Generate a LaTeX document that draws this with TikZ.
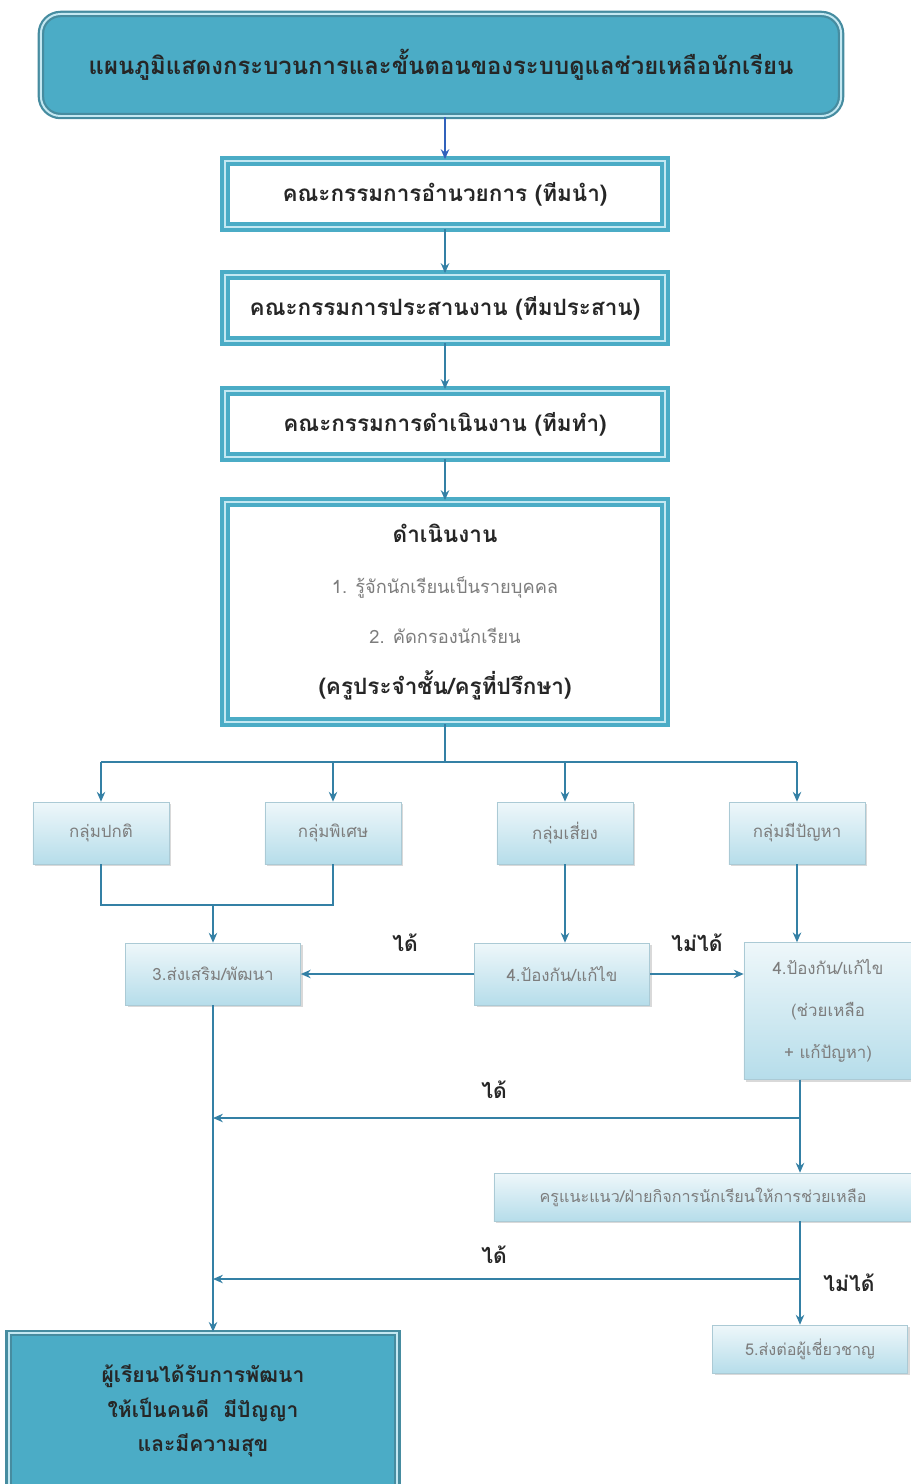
\documentclass[tikz,border=0pt]{standalone}
\usepackage{fontspec}
\setmainfont[Script=Thai]{Loma}
\usepackage{tikz}
\usetikzlibrary{arrows.meta, positioning, shadows}
\definecolor{tealc}{RGB}{75,172,198}
\definecolor{teald}{RGB}{70,140,160}
\definecolor{tealL}{RGB}{196,232,242}
\definecolor{linec}{RGB}{52,128,165}
\definecolor{boxtop}{RGB}{238,247,250}
\definecolor{boxbot}{RGB}{182,221,234}
\definecolor{graytxt}{RGB}{125,125,125}
\tikzset{
  headbox/.style={rectangle, fill=tealc, draw=teald, double=tealL, double distance=1.4pt, line width=1.6pt, align=center, text=black!85},
  teambox/.style={rectangle, fill=white, draw=tealc, double=tealL, double distance=1.2pt, line width=2.7pt, minimum width=11cm, minimum height=1.65cm, font=\bfseries\fontsize{16}{20}\selectfont, text=black!85},
  groupbox/.style={rectangle, draw=boxbot!80!gray, top color=boxtop, bottom color=boxbot, drop shadow={opacity=0.3, shadow xshift=1.5pt, shadow yshift=-1.5pt}, text=graytxt, font=\fontsize{12}{30}\selectfont, minimum width=3.4cm, minimum height=1.55cm, align=center},
  conn/.style={linec, line width=2pt},
  yesno/.style={font=\bfseries\fontsize{15}{18}\selectfont, text=black!85}
}
\begin{document}
\begin{tikzpicture}[x=0.025cm, y=-0.025cm, >={Stealth[length=7pt,width=6pt]}]
\useasboundingbox (0,0) rectangle (910,1484);

\node[headbox, rounded corners=14pt, minimum width=20cm, minimum height=2.55cm] (title) at (441,65) {\bfseries\fontsize{17}{22}\selectfont แผนภูมิแสดงกระบวนการและขั้นตอนของระบบดูแลช่วยเหลือนักเรียน};
\node[teambox] (lead) at (445,194) {คณะกรรมการอำนวยการ (ทีมนำ)};
\node[teambox] (coord) at (445,308) {คณะกรรมการประสานงาน (ทีมประสาน)};
\node[teambox] (oper) at (445,424) {คณะกรรมการดำเนินงาน (ทีมทำ)};
\node[teambox, minimum height=5.5cm, align=center, font=\fontsize{13}{36}\selectfont] (work) at (445,612) {{\bfseries\fontsize{16}{20}\selectfont ดำเนินงาน}\\ {\color{graytxt}1. รู้จักนักเรียนเป็นรายบุคคล}\\ {\color{graytxt}2. คัดกรองนักเรียน}\\ {\bfseries\fontsize{16}{20}\selectfont (ครูประจำชั้น/ครูที่ปรึกษา)}};

\node[groupbox] (normal) at (101,833) {กลุ่มปกติ};
\node[groupbox] (special) at (333,833) {กลุ่มพิเศษ};
\node[groupbox] (risk) at (565,833) {กลุ่มเสี่ยง};
\node[groupbox] (problem) at (797,833) {กลุ่มมีปัญหา};

\node[groupbox, minimum width=4.375cm] (promo) at (213,974) {3.ส่งเสริม/พัฒนา};
\node[groupbox, minimum width=4.375cm] (prev) at (562,974) {4.ป้องกัน/แก้ไข};
\node[groupbox, minimum width=4.2cm, minimum height=3.42cm] (probfix) at (828,1011) {4.ป้องกัน/แก้ไข\\(ช่วยเหลือ\\+ แก้ปัญหา)};
\node[groupbox, minimum width=10.45cm, minimum height=1.2cm, font=\fontsize{11.5}{14}\selectfont] (guide) at (703,1197) {ครูแนะแนว/ฝ่ายกิจการนักเรียนให้การช่วยเหลือ};
\node[groupbox, minimum width=4.875cm, minimum height=1.2cm, font=\fontsize{11.5}{14}\selectfont] (refer) at (810,1349) {5.ส่งต่อผู้เชี่ยวชาญ};
\node[headbox, minimum width=9.72cm, minimum height=3.9cm, font=\bfseries\fontsize{15}{24.5}\selectfont] (result) at (203,1411) {ผู้เรียนได้รับการพัฒนา\\ให้เป็นคนดี~~มีปัญญา\\และมีความสุข};

\node[yesno] (ok1) at (405,943) {ได้};
\node[yesno] (no1) at (697,943) {ไม่ได้};
\node[yesno] (ok2) at (494,1090) {ได้};
\node[yesno] (ok3) at (494,1255) {ได้};
\node[yesno] (no2) at (849,1283) {ไม่ได้};

\draw[conn, ->, teald!70!blue] (lead.north |- title.south) -- (lead.north);
\draw[conn, ->] (lead) -- (coord);
\draw[conn, ->] (coord) -- (oper);
\draw[conn, ->] (oper) -- (work);

\coordinate (split) at (445,762);
\draw[conn] (work.south) -- (split);
\draw[conn] (normal.north |- split) -- (problem.north |- split);
\foreach \g in {normal,special,risk,problem}
  \draw[conn, ->] (\g.north |- split) -- (\g.north);

\coordinate (join) at (213,905);
\draw[conn] (normal.south) |- (join) -| (special.south);
\draw[conn, ->] (join) -- (promo.north);
\draw[conn, ->] (risk.south) -- (risk.south |- prev.north);
\draw[conn, ->] (problem.south) -- (problem.south |- probfix.north);
\draw[conn, ->] (prev.west) -- (promo.east);
\draw[conn, ->] (prev.east) -- (prev.east -| probfix.west);

\coordinate (back1) at (800,1118);
\coordinate (back2) at (800,1279);
\draw[conn, ->] (probfix.south -| back1) -- (guide.north -| back1);
\draw[conn, ->] (back1) -- (back1 -| promo.south);
\draw[conn, ->] (guide.south -| back2) -- (refer.north -| back2);
\draw[conn, ->] (back2) -- (back2 -| promo.south);
\draw[conn, ->] (promo.south) -- (promo.south |- result.north);
\end{tikzpicture}
\end{document}
